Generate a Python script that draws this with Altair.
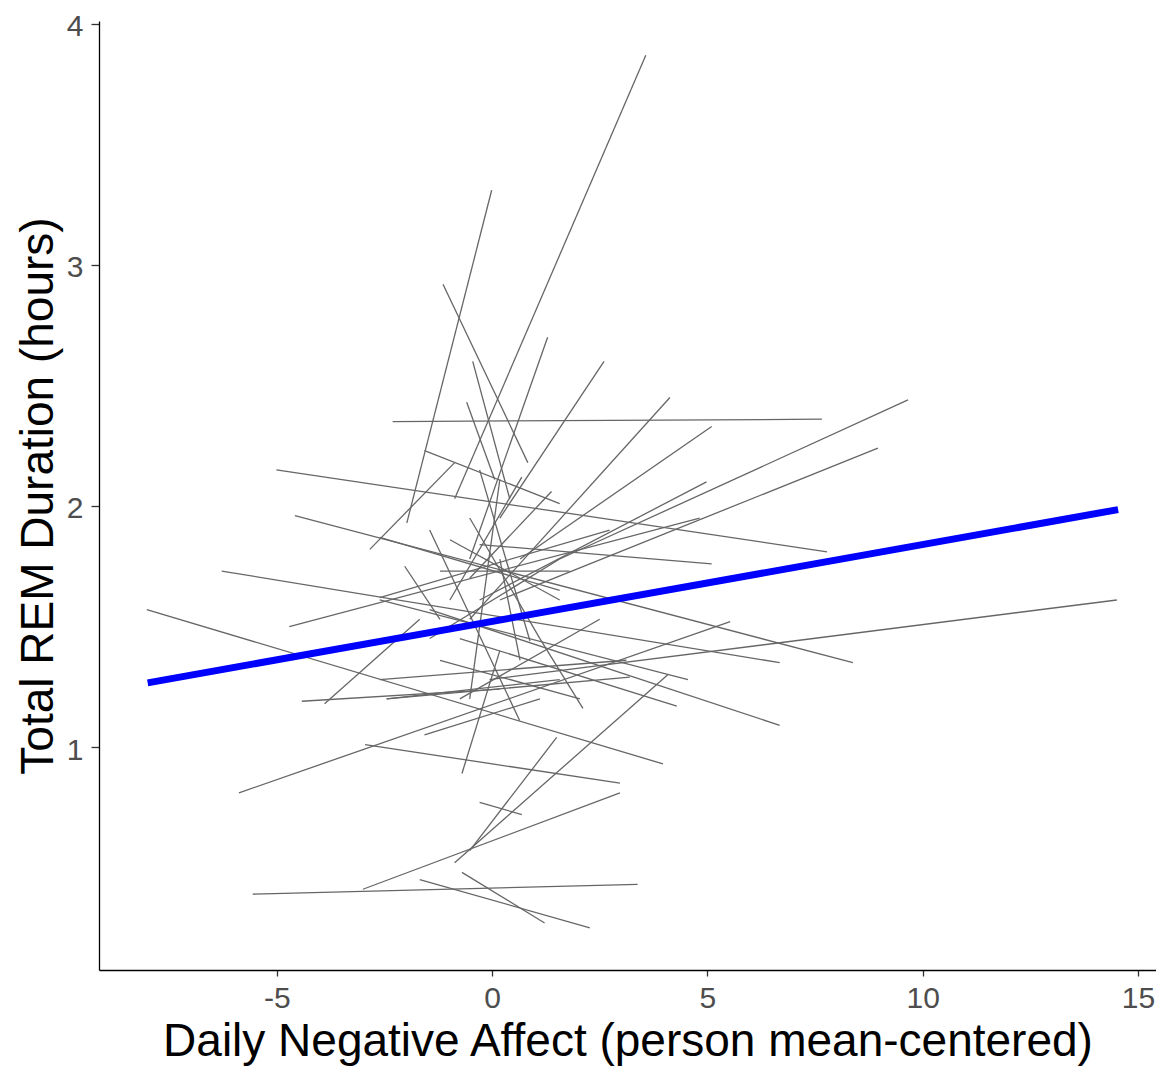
import altair as alt
import pandas as pd

# Per-person regression segments: start x, start y, end x, end y
x_start = [3.57, -0.01, -1.14, 1.29, 2.60, 4.13, -2.31, 9.66, 8.96, 5.10,
           4.98, -5.01, -4.58, -0.06, -6.28, -8.02, -1.45, -5.88, -2.61, -0.75,
           -3.00, -2.95, -5.56, -1.68, -0.70, -0.87, -0.29, 1.50, -4.42, -3.89,
           -2.45, -1.57, -0.70, 1.11, -2.84, -1.57, -2.03, -4.71, -0.29, -1.21,
           -0.45, -0.59, 1.38, 0.69, -0.98, -1.45, -0.75, -1.21, 0.18, -0.52,
           -2.61, -2.61, -2.61, -2.45, -1.45, -0.29, 0.18]
y_start = [3.87, 3.31, 2.92, 2.70, 2.60, 2.45, 2.35, 2.44, 2.24, 2.33,
           2.10, 2.15, 1.96, 1.28, 1.73, 1.57, 1.57, 0.81, 1.61, 1.45,
           0.41, 1.01, 0.39, 0.45, 0.48, 0.52, 0.77, 1.04, 1.19, 1.18,
           1.20, 1.05, 0.89, 1.45, 1.82, 2.23, 1.75, 1.50, 1.84, 1.73,
           2.60, 2.43, 2.06, 2.12, 1.86, 1.45, 1.20, 1.36, 1.78, 1.95,
           1.87, 1.62, 1.28, 1.20, 1.90, 2.15, 2.11]
x_end = [-0.87, -1.98, 0.83, -0.52, 0.18, -0.52, 7.66, 1.57, 0.18, 0.65,
         -0.29, 7.78, 8.38, 14.51, 6.68, 3.97, 6.68, 5.53, 4.55, 4.29,
         2.97, 2.97, 3.38, 2.27, 1.22, 4.08, 0.69, -0.52, 0.18, -1.68,
         1.57, 1.11, 0.18, 2.11, -0.87, 1.57, -1.21, 4.82, 5.10, 1.80,
         0.41, 0.06, -0.52, -0.98, 1.57, 1.57, 2.50, 2.04, 0.65, 1.11,
         1.57, 2.73, 3.12, 3.20, 0.64, 0.88, -0.52]
y_end = [2.03, 1.93, 2.18, 1.78, 1.95, 1.53, 2.36, 1.78, 1.61, 1.78,
         1.61, 1.81, 1.35, 1.61, 1.35, 0.93, 1.09, 1.52, 1.28, 1.17,
         0.81, 0.85, 0.43, 0.25, 0.27, 1.30, 0.72, 0.57, 1.24, 1.53,
         1.28, 1.20, 1.40, 1.16, 2.18, 2.01, 1.53, 1.95, 1.76, 1.73,
         2.03, 2.11, 1.70, 1.61, 1.61, 1.78, 1.53, 1.20, 1.36, 1.45,
         1.65, 1.90, 1.36, 1.29, 1.11, 1.44, 1.20]

# Overall fixed-effect line
fixed_x = [-8.00, 14.54]
fixed_y = [1.266, 1.985]

x_ticks = [-5, 0, 5, 10, 15]
y_ticks = [1, 2, 3, 4]

seg = pd.DataFrame({"x": x_start, "y": y_start, "x2": x_end, "y2": y_end})
fixed = pd.DataFrame({"x": [fixed_x[0]], "y": [fixed_y[0]],
                      "x2": [fixed_x[1]], "y2": [fixed_y[1]]})

xscale = alt.Scale(domain=[-9.13, 15.42], nice=False, zero=False)
yscale = alt.Scale(domain=[0.075, 4.012], nice=False, zero=False)

common = dict(grid=False, domain=True, domainColor="#000000", domainWidth=1.3,
              tickColor="#333333", tickWidth=1.3,
              labelColor="#4D4D4D", labelFontSize=30, labelFont="Liberation Sans",
              labelExpr="'' + datum.value",
              titleFontSize=46, titleFont="Liberation Sans", titleFontWeight="normal",
              titleColor="#000000")

xaxis = alt.Axis(values=x_ticks, title="Daily Negative Affect (person mean-centered)",
                 tickSize=6, labelPadding=7, titlePadding=6, **common)
yaxis = alt.Axis(values=y_ticks, title="Total REM Duration (hours)",
                 tickSize=8, labelPadding=8, titlePadding=4, labelOffset=3, **common)

segs = alt.Chart(seg).mark_rule(color="#666666", strokeWidth=1.3).encode(
    x=alt.X("x:Q", scale=xscale, axis=xaxis),
    y=alt.Y("y:Q", scale=yscale, axis=yaxis),
    x2="x2:Q", y2="y2:Q")

blue = alt.Chart(fixed).mark_rule(color="#0000FF", strokeWidth=7).encode(
    x=alt.X("x:Q", scale=xscale), y=alt.Y("y:Q", scale=yscale),
    x2="x2:Q", y2="y2:Q")

chart = alt.layer(segs, blue).properties(
    width=1057, height=949,
    background="white",
    autosize=alt.AutoSizeParams(type="none"),
    padding={"left": 91, "top": 13, "right": 0, "bottom": 96},
).configure_view(stroke=None)

chart.save("out.html", embed_options={"renderer": "svg", "actions": False})
